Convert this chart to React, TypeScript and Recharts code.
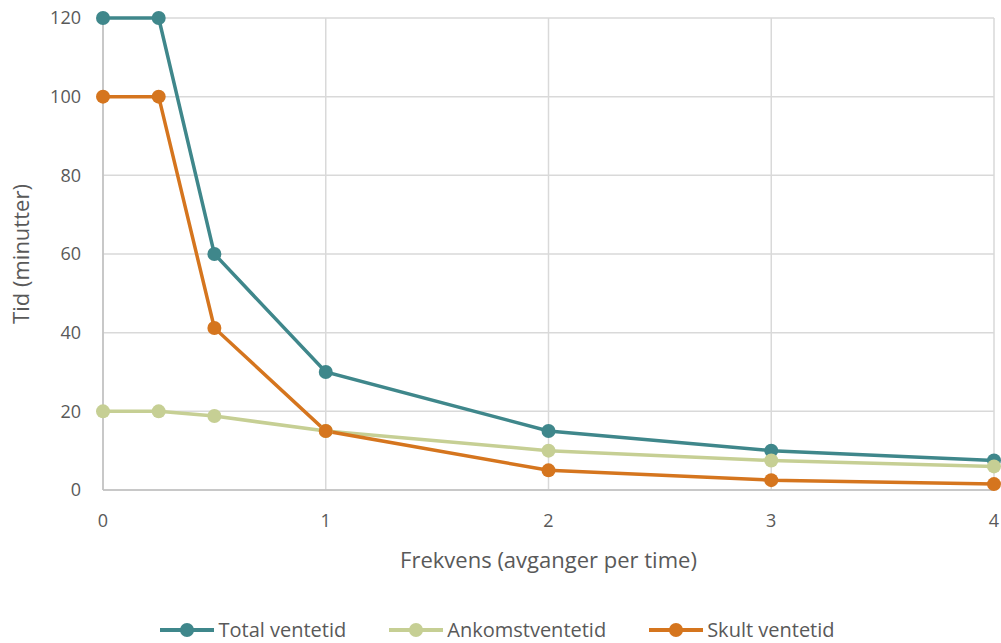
import React from "react";
import { LineChart, Line, XAxis, YAxis, CartesianGrid, Legend } from "recharts";

const frequencies = [0, 0.25, 0.5, 1, 2, 3, 4];
const totalWait = [120, 120, 60, 30, 15, 10, 7.5];
const arrivalWait = [20, 20, 18.8, 15, 10, 7.5, 6];
const hiddenWait = [100, 100, 41.2, 15, 5, 2.5, 1.5];
const xTicks = [0, 1, 2, 3, 4];
const yTicks = [0, 20, 40, 60, 80, 100, 120];

const SERIES = [
  { key: "total", name: "Total ventetid", color: "#3f878b" },
  { key: "arrival", name: "Ankomstventetid", color: "#c6cf94" },
  { key: "hidden", name: "Skult ventetid", color: "#d5751e" },
];

const data = frequencies.map((f, i) => ({
  f,
  total: totalWait[i],
  arrival: arrivalWait[i],
  hidden: hiddenWait[i],
}));

const FONT = "'Open Sans', Lato, sans-serif";

function LegendContent() {
  return (
    <div style={{ display: "flex", justifyContent: "center", gap: 42, paddingTop: 16, fontFamily: FONT, fontSize: 20, color: "#595959" }}>
      {SERIES.map((s) => (
        <div key={s.key} style={{ display: "flex", alignItems: "center", gap: 3 }}>
          <svg width={56} height={16}>
            <line x1={1} y1={8} x2={55} y2={8} stroke={s.color} strokeWidth={4} />
            <circle cx={28} cy={8} r={7} fill={s.color} />
          </svg>
          <span>{s.name}</span>
        </div>
      ))}
    </div>
  );
}

export default function App() {
  return (
    <div style={{ position: "absolute", left: 0, top: 0, background: "#fff" }}>
      <LineChart width={1001} height={643} data={data} margin={{ top: 18, right: 7, left: 0, bottom: 0 }}>
        <CartesianGrid stroke="#d9d9d9" strokeWidth={1.5} />
        <XAxis
          dataKey="f"
          type="number"
          domain={[0, 4]}
          ticks={xTicks}
          tickLine={false}
          stroke="#bfbfbf"
          strokeWidth={1.5}
          height={110}
          tick={{ fill: "#595959", fontSize: 18, fontFamily: FONT }}
          tickMargin={18}
          label={{ value: "Frekvens (avganger per time)", position: "insideTop", offset: 62, fill: "#595959", fontSize: 22, fontFamily: FONT }}
        />
        <YAxis
          type="number"
          domain={[0, 120]}
          ticks={yTicks}
          tickLine={false}
          stroke="#bfbfbf"
          strokeWidth={1.5}
          width={103}
          tick={{ fill: "#595959", fontSize: 18, fontFamily: FONT }}
          tickMargin={16}
          label={{ value: "Tid (minutter)", angle: -90, position: "insideLeft", offset: 21, fill: "#595959", fontSize: 22, fontFamily: FONT, style: { textAnchor: "middle" } }}
        />
        <Legend verticalAlign="bottom" height={43} content={<LegendContent />} />
        {SERIES.map((s) => (
          <Line
            key={s.key}
            type="linear"
            dataKey={s.key}
            name={s.name}
            stroke={s.color}
            strokeWidth={3.5}
            dot={{ r: 7, fill: s.color, stroke: "none" }}
            isAnimationActive={false}
          />
        ))}
      </LineChart>
    </div>
  );
}
